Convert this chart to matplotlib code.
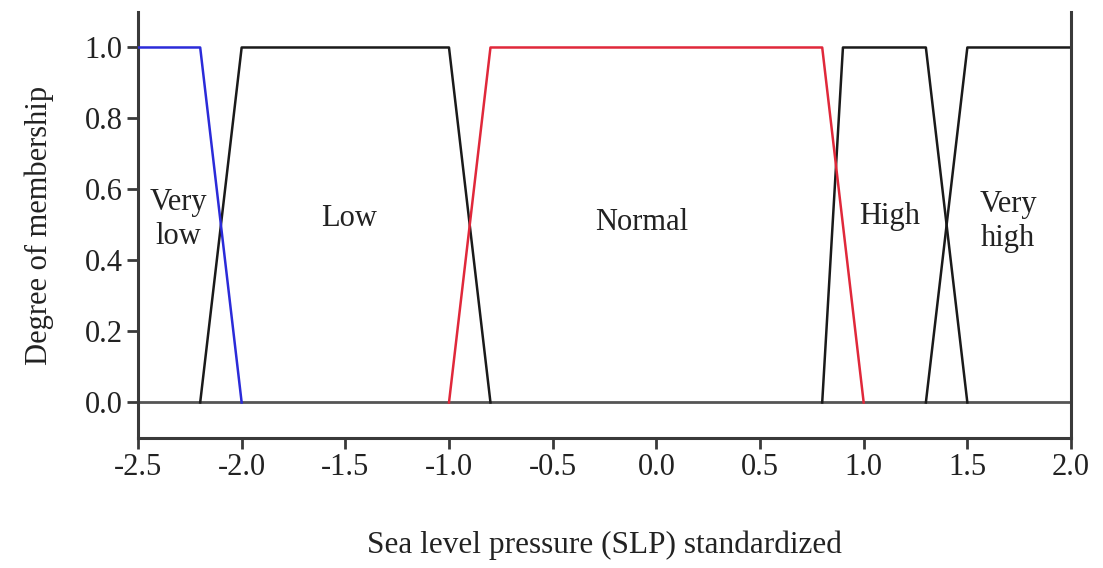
import matplotlib
matplotlib.use("Agg")
import matplotlib.pyplot as plt

plt.rcParams['font.family'] = ['Liberation Serif', 'DejaVu Serif']

# Membership function breakpoints (x, degree)
very_low_x = [-2.5, -2.2, -2.0]
very_low_y = [1.0, 1.0, 0.0]
low_x = [-2.2, -2.0, -1.0, -0.8]
low_y = [0.0, 1.0, 1.0, 0.0]
normal_x = [-1.0, -0.8, 0.8, 1.0]
normal_y = [0.0, 1.0, 1.0, 0.0]
high_x = [0.8, 0.9, 1.3, 1.5]
high_y = [0.0, 1.0, 1.0, 0.0]
very_high_x = [1.3, 1.5, 2.0]
very_high_y = [0.0, 1.0, 1.0]

labels = ["Very\nlow", "Low", "Normal", "High", "Very\nhigh"]
label_x = [-2.307, -1.482, -0.069, 1.123, 1.697]
label_y = [0.515, 0.517, 0.506, 0.525, 0.51]

xticks = [-2.5, -2.0, -1.5, -1.0, -0.5, 0.0, 0.5, 1.0, 1.5, 2.0]
yticks = [0.0, 0.2, 0.4, 0.6, 0.8, 1.0]

fig = plt.figure(figsize=(11.03, 5.68), dpi=100)
ax = fig.add_axes([0.1251, 0.2289, 0.8459, 0.75])

spine_c = '#3a3a3a'
txt_c = '#222222'
ax.axhline(0, color='#555555', lw=2, zorder=1)
ax.plot(very_low_x, very_low_y, color='#2b2bd9', lw=1.8, zorder=3)
ax.plot(low_x, low_y, color='#1a1a1a', lw=1.8, zorder=2)
ax.plot(normal_x, normal_y, color='#e0283a', lw=1.8, zorder=3)
ax.plot(high_x, high_y, color='#1a1a1a', lw=1.8, zorder=2)
ax.plot(very_high_x, very_high_y, color='#1a1a1a', lw=1.8, zorder=2)

for t, x, y in zip(labels, label_x, label_y):
    ax.text(x, y, t, ha='center', va='center', fontsize=22, color=txt_c, linespacing=1.2)

ax.set_xlim(-2.5, 2.0)
ax.set_ylim(-0.1, 1.1)
ax.set_xticks(xticks)
ax.set_xticklabels([f"{v:.1f}" for v in xticks])
ax.set_yticks(yticks)
ax.set_yticklabels([f"{v:.1f}" for v in yticks])

ax.spines['top'].set_visible(False)
for s in ['left', 'right', 'bottom']:
    ax.spines[s].set_color(spine_c)
    ax.spines[s].set_linewidth(2.2)
ax.tick_params(axis='both', direction='out', length=8, width=2, color=spine_c,
               labelsize=22, labelcolor=txt_c, pad=3)
ax.tick_params(axis='y', right=False)

ax.set_xlabel("Sea level pressure (SLP) standardized", fontsize=22.5, color=txt_c, labelpad=35)
ax.set_ylabel("Degree of membership", fontsize=22, color=txt_c, labelpad=22)

fig.savefig("out.png", dpi=100)
